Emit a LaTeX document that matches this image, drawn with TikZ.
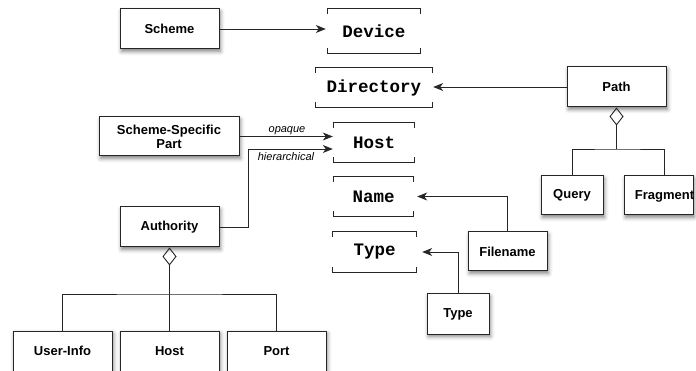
\documentclass[tikz,border=0pt]{standalone}
\usepackage{fontspec}
\setmainfont{Liberation Sans}
\newfontfamily\monof{Liberation Mono}
\usetikzlibrary{arrows.meta,shadows.blur}
\newcommand{\brk}[1]{\draw[brline] ([yshift=-5pt]#1.north west) -- (#1.north west) -- (#1.north east) -- ([yshift=-5pt]#1.north east) ([yshift=5pt]#1.south west) -- (#1.south west) -- (#1.south east) -- ([yshift=5pt]#1.south east);}
\begin{document}
\begin{tikzpicture}[x=1pt,y=-1pt,
  box/.style={draw=black!85, line width=1pt, fill=white, minimum width=#1, minimum height=40pt, inner sep=0pt,
    font=\fontsize{13}{14}\selectfont\bfseries, align=center,
    blur shadow={shadow xshift=1.5pt, shadow yshift=-2.5pt, shadow blur radius=4pt, shadow opacity=50}},
  box/.default=99pt,
  btext/.style={inner sep=0pt, font=\fontsize{13}{14}\selectfont\bfseries},
  mono/.style={inner sep=0pt, minimum width=#1, font=\monof\fontsize{17.5}{18}\selectfont\bfseries},
  brline/.style={line width=0.9pt, draw=black!85},
  arr/.style={line width=0.9pt, draw=black!85, -{Stealth[length=10pt,width=8pt,inset=3pt]}},
  agg/.style={line width=0.9pt, draw=black!85, {Diamond[open,length=18pt,width=14pt]}-},
  conn/.style={line width=0.9pt, draw=black!85},
  lbl/.style={inner sep=0pt, font=\fontsize{11}{12}\selectfont\itshape}
]
\useasboundingbox (0,0) rectangle (696,371);
\clip (0,0) rectangle (696,371);

% bracketed targets
\node[mono=92pt, minimum height=44pt] (device) at (374,31) {Device};
\node[mono=116pt, minimum height=39pt] (dir) at (374,87.5) {Directory};
\node[mono=80pt, minimum height=39pt] (host) at (374,142.5) {Host};
\node[mono=79pt, minimum height=39pt] (name) at (373.5,196.5) {Name};
\node[mono=83pt, minimum height=40pt] (typeb) at (374.5,252) {Type};
\brk{device}\brk{dir}\brk{host}\brk{name}\brk{typeb}

% boxes
\node[box] (scheme) at (169.5,29) {Scheme};
\node[box=140pt, minimum height=39pt] (ssp) at (169,136.5) {Scheme-Specific\\Part};
\node[box] (auth) at (169.5,227) {Authority};
\node[box] (user) at (62.5,351) {User-Info};
\node[box] (host2) at (169.5,351) {Host};
\node[box] (port) at (276.5,351) {Port};
\node[box] (path) at (616.5,87) {Path};
\node[box=62pt, minimum height=39pt] (query) at (572,195.5) {Query};
\node[box=69pt, minimum height=39pt] (frag) at (658.5,195.5) {};
\node[btext] (fragt) at (664.5,196) {Fragment};
\node[box=79pt, minimum height=39pt] (filename) at (507.5,251.5) {Filename};
\node[box=62pt] (typebox) at (458,314) {Type};

% connectors
\draw[arr, shorten >=2pt] (scheme.east) -- (scheme.east -| device.west);
\draw[arr] (path.west) -- ([xshift=1pt]path.west -| dir.east);
\draw[arr] (ssp.east) -- ([xshift=-1pt]ssp.east -| host.west);
\coordinate (hb) at (248,149);
\draw[arr] (auth.east) -| (hb) -- ([xshift=-1pt]hb -| host.west);
\node[lbl] (lop) at (287,131) {opaque};
\node[lbl] (lhi) at (286,157) {hierarchical};
\draw[arr] (filename.north) |- ([xshift=4pt]name.east);
\draw[arr] (typebox.north) |- ([xshift=6pt]typeb.east);

% aggregations
\coordinate (aj) at (169.5,294);
\draw[agg] (auth.south) -- (aj);
\draw[conn] (user.north) |- (aj) -| (port.north);
\draw[conn] (host2.north) -- (aj);
\coordinate (pj) at (616.5,149);
\draw[agg] (path.south) -- (pj);
\draw[conn] (query.north) |- (pj) -| (fragt.center |- frag.north);
\end{tikzpicture}
\end{document}
